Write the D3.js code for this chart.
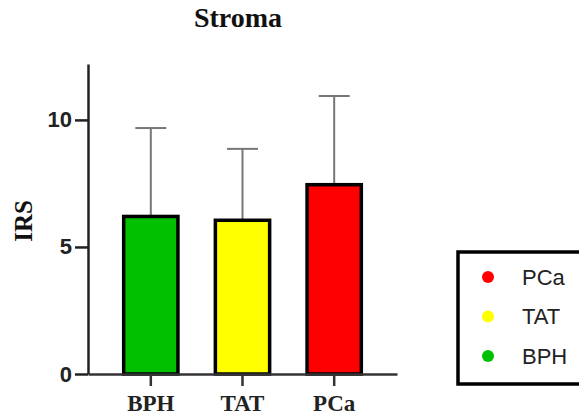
<!DOCTYPE html>
<html><head><meta charset="utf-8">
<script src="https://cdn.jsdelivr.net/npm/d3@7"></script>
<style>body{margin:0;background:#fff}svg{display:block}</style>
</head><body>
<svg id="c" width="579" height="417"></svg>
<script>
const categories = ["BPH", "TAT", "PCa"];
const means = [6.2, 6.05, 7.45];
const sds = [3.48, 2.81, 3.49];
const colors = ["#00c000", "#ffff00", "#ff0000"];
const yTicks = [0, 5, 10];
const legendItems = ["PCa", "TAT", "BPH"];
const legendColors = ["#ff0000", "#ffff00", "#00c000"];

const svg = d3.select("#c");
const x = d3.scaleBand().domain(categories).range([88, 397]).paddingInner(0.37).paddingOuter(0.37);
const y = d3.scaleLinear().domain([0, 12.2]).range([374, 64]);
const sw = 3.5;

// title
svg.append("text").attr("x", 238).attr("y", 27).attr("text-anchor", "middle")
  .attr("font-family", "Liberation Serif, Times New Roman, serif").attr("font-weight", "bold")
  .attr("font-size", 28).attr("fill", "#111").text("Stroma");

// y label
svg.append("text").attr("transform", "translate(32,221) rotate(-90)").attr("text-anchor", "middle")
  .attr("font-family", "Liberation Serif, Times New Roman, serif").attr("font-weight", "bold")
  .attr("font-size", 25).attr("fill", "#111").text("IRS");

// error bars
const eb = svg.append("g");
categories.forEach((c, i) => {
  const cx = x(c) + x.bandwidth() / 2;
  eb.append("line").attr("x1", cx).attr("x2", cx).attr("y1", y(means[i])).attr("y2", y(means[i] + sds[i]))
    .attr("stroke", "#777").attr("stroke-width", 2);
  eb.append("line").attr("x1", cx - 15.5).attr("x2", cx + 15.5).attr("y1", y(means[i] + sds[i])).attr("y2", y(means[i] + sds[i]))
    .attr("stroke", "#777").attr("stroke-width", 2);
});

// bars
svg.append("g").selectAll("rect").data(categories).join("rect")
  .attr("x", d => x(d) + sw / 2)
  .attr("width", x.bandwidth() - sw)
  .attr("y", (d, i) => y(means[i]))
  .attr("height", (d, i) => y(0) - y(means[i]))
  .attr("fill", (d, i) => colors[i])
  .attr("stroke", "#000").attr("stroke-width", sw);

// y axis
const ya = svg.append("g").attr("transform", "translate(88,0)")
  .call(d3.axisLeft(y).tickValues(yTicks).tickSize(13).tickPadding(3).tickSizeOuter(0));
ya.select(".domain").attr("stroke", "#222").attr("stroke-width", 2.5);
ya.selectAll(".tick line").attr("stroke", "#222").attr("stroke-width", 2.5);
ya.selectAll(".tick text").attr("font-family", "Liberation Sans, Arial, sans-serif")
  .attr("font-weight", "bold").attr("font-size", 22).attr("fill", "#222");

// x axis
const xa = svg.append("g").attr("transform", "translate(0,374)")
  .call(d3.axisBottom(x).tickSize(12).tickPadding(9).tickSizeOuter(0));
xa.select(".domain").attr("stroke", "#333").attr("stroke-width", 2.5);
xa.selectAll(".tick line").attr("stroke", "#333").attr("stroke-width", 2.5);
xa.selectAll(".tick text").attr("font-family", "Liberation Serif, Times New Roman, serif")
  .attr("font-weight", "bold").attr("font-size", 23).attr("fill", "#222");

// legend
const lg = svg.append("g");
lg.append("rect").attr("x", 458).attr("y", 252).attr("width", 140).attr("height", 132)
  .attr("fill", "#fff").attr("stroke", "#000").attr("stroke-width", 3.5);
legendItems.forEach((t, i) => {
  const cy = 277 + i * 39.5;
  lg.append("circle").attr("cx", 488).attr("cy", cy).attr("r", 6).attr("fill", legendColors[i]);
  lg.append("text").attr("x", 522).attr("y", cy).attr("dy", "0.35em")
    .attr("font-family", "Liberation Sans, Arial, sans-serif").attr("font-size", 22).attr("fill", "#222").text(t);
});
</script>
</body></html>
